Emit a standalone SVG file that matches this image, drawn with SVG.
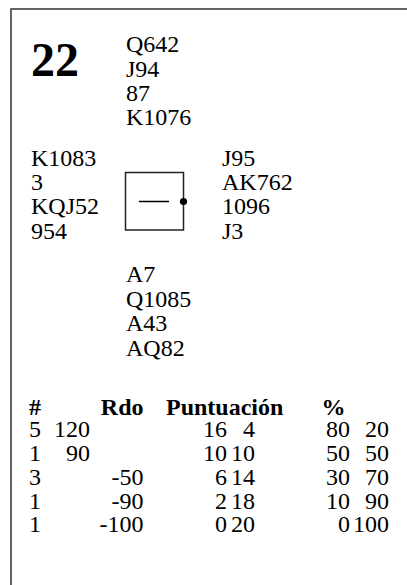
<svg xmlns="http://www.w3.org/2000/svg" width="407" height="585" viewBox="0 0 407 585">
<style>
text{font-family:'Times New Roman',Tinos,'Liberation Serif',serif;font-size:24px;fill:#000}
.b{font-weight:bold}
.big{font-size:48px;font-weight:bold}
.e{text-anchor:end}
.frame{stroke:#333;stroke-width:1.5;fill:none}
</style>
<rect width="407" height="585" fill="#fff"/>
<g id="frame"><path class="frame" d="M11 585 V9 H407"/></g>
<g id="board"><text class="big" x="31" y="76">22</text></g>
<g id="north">
<text x="126" y="52">Q642</text>
<text x="126" y="76.5">J94</text>
<text x="126" y="101">87</text>
<text x="126" y="125">K1076</text>
</g>
<g id="west">
<text x="31" y="165.5">K1083</text>
<text x="31" y="190">3</text>
<text x="31" y="214">KQJ52</text>
<text x="31" y="238.5">954</text>
</g>
<g id="east">
<text x="222" y="165.5">J95</text>
<text x="222" y="190">AK762</text>
<text x="222" y="214">1096</text>
<text x="222" y="238.5">J3</text>
</g>
<g id="compass">
<rect x="125.5" y="172.5" width="58" height="57.5" fill="none" stroke="#222" stroke-width="1.5"/>
<line x1="139" y1="201.5" x2="169" y2="201.5" stroke="#000" stroke-width="1.5"/>
<circle cx="183.5" cy="201.5" r="3.6" fill="#000"/>
</g>
<g id="south">
<text x="126" y="282">A7</text>
<text x="126" y="306.5">Q1085</text>
<text x="126" y="331">A43</text>
<text x="126" y="355.5">AQ82</text>
</g>
<g id="table">
<text class="b" x="29" y="415">#</text>
<text class="b e" x="143.5" y="415">Rdo</text>
<text class="b" x="166" y="415">Puntuación</text>
<text class="b" x="321.5" y="415">%</text>
<text x="29" y="437">5</text><text class="e" x="90" y="437">120</text><text class="e" x="227" y="437">16</text><text class="e" x="255" y="437">4</text><text class="e" x="350" y="437">80</text><text class="e" x="389" y="437">20</text>
<text x="29" y="461">1</text><text class="e" x="90" y="461">90</text><text class="e" x="227" y="461">10</text><text class="e" x="255" y="461">10</text><text class="e" x="350" y="461">50</text><text class="e" x="389" y="461">50</text>
<text x="29" y="485">3</text><text class="e" x="143.5" y="485">-50</text><text class="e" x="227" y="485">6</text><text class="e" x="255" y="485">14</text><text class="e" x="350" y="485">30</text><text class="e" x="389" y="485">70</text>
<text x="29" y="508.5">1</text><text class="e" x="143.5" y="508.5">-90</text><text class="e" x="227" y="508.5">2</text><text class="e" x="255" y="508.5">18</text><text class="e" x="350" y="508.5">10</text><text class="e" x="389" y="508.5">90</text>
<text x="29" y="532">1</text><text class="e" x="143.5" y="532">-100</text><text class="e" x="227" y="532">0</text><text class="e" x="255" y="532">20</text><text class="e" x="350" y="532">0</text><text class="e" x="389" y="532">100</text>
</g>
</svg>
